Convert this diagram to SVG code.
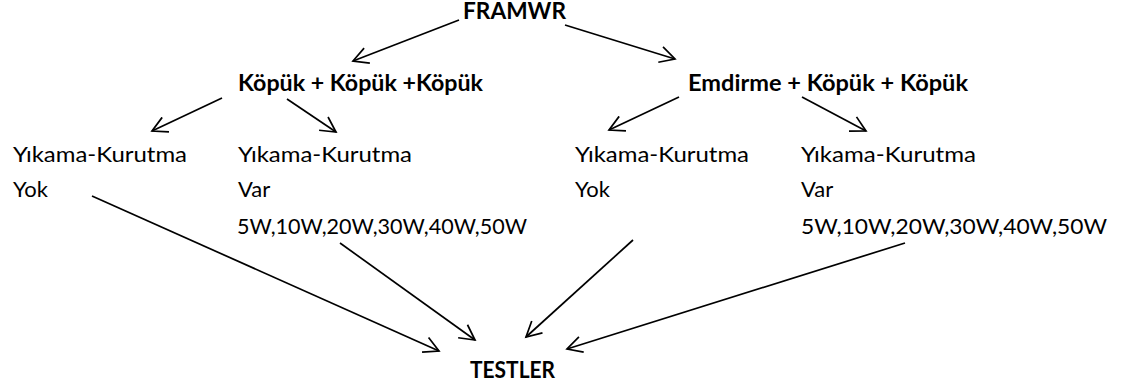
<svg xmlns="http://www.w3.org/2000/svg" width="1124" height="390" viewBox="0 0 1124 390">
<style>
text{font-family:Lato,"Liberation Sans",sans-serif;fill:#000}
.r{font-size:22px}
.b{font-size:23px;font-weight:bold}
.c{fill:none;stroke:#000;stroke-width:1.7}
</style>
<defs>
<marker id="arr" markerWidth="20" markerHeight="18" refX="16" refY="9" orient="auto" markerUnits="userSpaceOnUse" viewBox="0 0 20 18">
<path d="M1,1 L16,9 L1,17" fill="none" stroke="#000" stroke-width="1.7"/>
</marker>
</defs>
<rect width="1124" height="390" fill="#fff"/>
<g id="framwr"><text class="b" x="463" y="19" textLength="103" lengthAdjust="spacingAndGlyphs">FRAMWR</text></g>
<g id="kopuk"><text class="b" x="238" y="91" textLength="245" lengthAdjust="spacingAndGlyphs">Köpük + Köpük +Köpük</text></g>
<g id="emdirme"><text class="b" x="688" y="91" textLength="280" lengthAdjust="spacingAndGlyphs">Emdirme + Köpük + Köpük</text></g>
<g id="col1">
<text class="r" x="13" y="162" textLength="174" lengthAdjust="spacingAndGlyphs">Yıkama-Kurutma</text>
<text class="r" x="13" y="197">Yok</text>
</g>
<g id="col2">
<text class="r" x="238" y="162" textLength="174" lengthAdjust="spacingAndGlyphs">Yıkama-Kurutma</text>
<text class="r" x="238" y="197">Var</text>
<text class="r" x="237" y="234" textLength="290" lengthAdjust="spacingAndGlyphs">5W,10W,20W,30W,40W,50W</text>
</g>
<g id="col3">
<text class="r" x="575" y="162" textLength="174" lengthAdjust="spacingAndGlyphs">Yıkama-Kurutma</text>
<text class="r" x="575" y="197">Yok</text>
</g>
<g id="col4">
<text class="r" x="801" y="162" textLength="175" lengthAdjust="spacingAndGlyphs">Yıkama-Kurutma</text>
<text class="r" x="801" y="197">Var</text>
<text class="r" x="801" y="234" textLength="306" lengthAdjust="spacingAndGlyphs">5W,10W,20W,30W,40W,50W</text>
</g>
<g id="testler"><text class="b" x="470" y="378" textLength="85" lengthAdjust="spacingAndGlyphs">TESTLER</text></g>
<g id="connectors" class="c">
<line class="c" x1="459" y1="20" x2="353" y2="61" marker-end="url(#arr)"/>
<line class="c" x1="565" y1="25" x2="675" y2="59" marker-end="url(#arr)"/>
<line class="c" x1="222" y1="98" x2="152" y2="131" marker-end="url(#arr)"/>
<line class="c" x1="287" y1="99" x2="336" y2="132" marker-end="url(#arr)"/>
<line class="c" x1="679" y1="97" x2="609" y2="130" marker-end="url(#arr)"/>
<line class="c" x1="802" y1="97" x2="866" y2="131" marker-end="url(#arr)"/>
<line class="c" x1="92" y1="196" x2="439" y2="351" marker-end="url(#arr)"/>
<line class="c" x1="340" y1="243" x2="475" y2="340" marker-end="url(#arr)"/>
<line class="c" x1="633" y1="240" x2="526" y2="337" marker-end="url(#arr)"/>
<line class="c" x1="905" y1="243" x2="567" y2="349" marker-end="url(#arr)"/>
</g>
</svg>
